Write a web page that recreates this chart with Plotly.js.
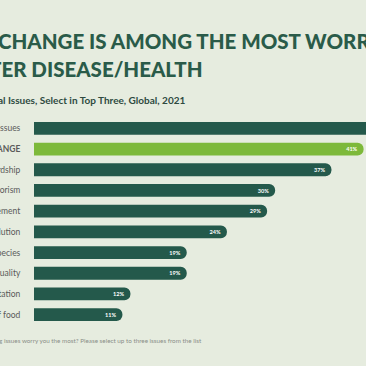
<!DOCTYPE html>
<html>
<head>
<meta charset="utf-8">
<script src="https://cdn.plot.ly/plotly-3.0.1.min.js"></script>
<style>html,body{margin:0;padding:0;background:#e6ecdf;}#chart{width:366px;height:366px;}</style>
</head>
<body>
<div id="chart"></div>
<script>
const categories = ["Disease/Health issues", "<b>CLIMATE CHANGE</b>", "Environmental stewardship", "Eco-terrorism", "Waste management", "Air pollution", "Endangered species", "Water quality", "Deforestation", "Scarcity of food"];
const values = [47, 41, 37, 30, 29, 24, 19, 19, 12, 11];
const highlight = [false, true, false, false, false, false, false, false, false, false];
const titleLine1 = ["CLIMATE", "CHANGE IS AMONG THE MOST WORRYING ENVIRONMENTAL ISSUES,"];
const titleLine2 = ["AF", "TER DISEASE/HEALTH"];
const subtitle = ["Environment", "al Issues, Select in Top Three, Global, 2021"];
const footnote = ["Q: Which of the followin", "g issues worry you the most? Please select up to three issues from the list"];

const W = 366, L = 34, R = 0;
const pw = W - L - R;
const px = p => (p - L) / pw;

const dark = "#24594b", light = "#7db93a", titleColor = "#2a5b49";

const trace = {
  type: "bar",
  orientation: "h",
  x: values,
  y: categories,
  marker: { color: highlight.map(h => h ? light : dark), cornerradius: 6.5 },
  texttemplate: "<b>%{x}%</b>",
  textposition: "inside",
  insidetextanchor: "end",
  textfont: { color: "#ffffff", size: 9, family: "Lato" },
  constraintext: "none",
  hoverinfo: "none",
  cliponaxis: false
};

function pair(parts, xpix, ypix, font) {
  return [
    { text: parts[0], xref: "paper", yref: "paper", x: px(xpix), y: ypix, yanchor: "middle", xanchor: "right", showarrow: false, font: font, borderpad: 0 },
    { text: parts[1], xref: "paper", yref: "paper", x: px(xpix), y: ypix, yanchor: "middle", xanchor: "left", showarrow: false, font: font, borderpad: 0 }
  ];
}

const T = 118, B = 41;
const ph = 366 - T - B;
const py = p => (366 - B - p) / ph;

const layout = {
  width: 366, height: 366,
  margin: { l: L, r: R, t: T, b: B, pad: 0 },
  paper_bgcolor: "#e6ecdf",
  plot_bgcolor: "#e6ecdf",
  showlegend: false,
  bargap: 0.38,
  font: { family: "Lato", color: "#555" },
  xaxis: { range: [0, 41.3], visible: false, fixedrange: true },
  yaxis: {
    autorange: "reversed",
    showgrid: false, zeroline: false, showline: false,
    ticks: "outside", ticklen: 11, tickcolor: "rgba(0,0,0,0)",
    tickfont: { size: 8.5, color: "#5a5a5a", family: "Lato" }
  },
  annotations: [].concat(
    pair(titleLine1, -3, py(41), { family: "Lato", size: 20.5, color: titleColor, weight: 900 }),
    pair(titleLine2, -12, py(69), { family: "Lato", size: 20.5, color: titleColor, weight: 900 }),
    pair(subtitle, -3, py(100), { family: "Lato", size: 10, color: "#2e4a3f", weight: 700 }),
    pair(footnote, -2, py(340), { family: "Lato", size: 6.3, color: "#8a8f88" })
  )
};

Plotly.newPlot("chart", [trace], layout, { displayModeBar: false, staticPlot: true });
</script>
</body>
</html>
